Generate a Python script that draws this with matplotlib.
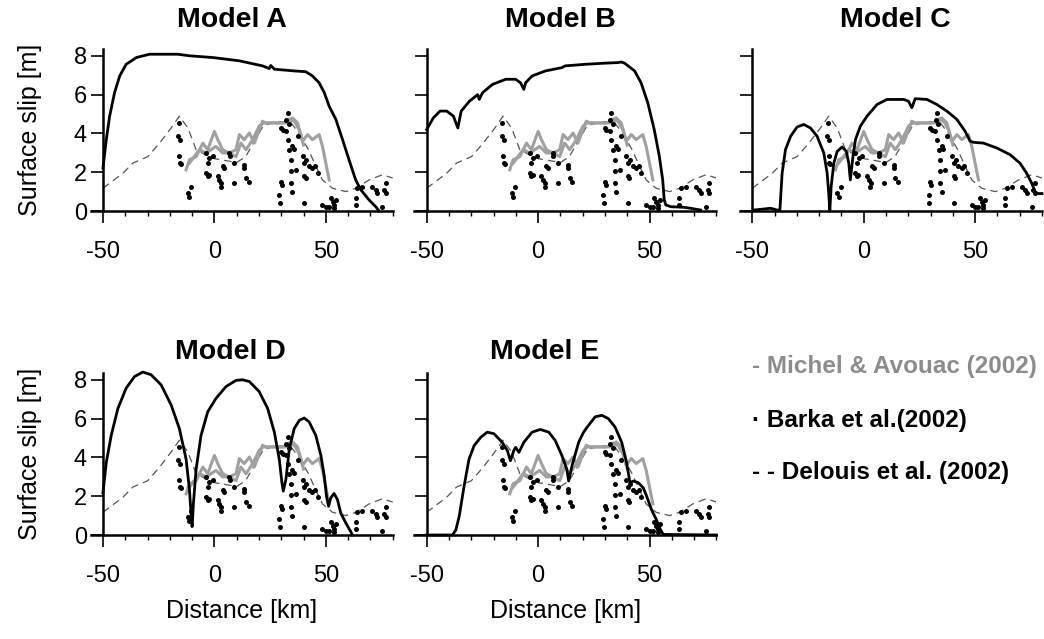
import numpy as np
import matplotlib.pyplot as plt
from matplotlib.ticker import MultipleLocator

plt.rcParams['font.family'] = ['Liberation Sans', 'DejaVu Sans']
plt.rcParams['axes.unicode_minus'] = False

# Delouis et al. (2002) - dashed
delouis_x = [-50, -41, -36.6, -29.9, -24.6, -19.4, -15.7, -11.9, -8.2, -4, 0, 5, 10, 14, 18,
             22, 28, 34, 38, 42, 46, 48.5, 53, 59, 63.4, 69.4, 75.4, 80]
delouis_y = [1.17, 1.95, 2.47, 2.8, 3.5, 4.28, 4.89, 4.28, 3.16, 2.9, 2.7, 2.6, 2.5, 2.8, 3.6,
             4.4, 4.6, 4.6, 4.0, 3.2, 2.2, 1.6, 1.17, 1.0, 1.17, 1.6, 1.87, 1.7]

# Michel & Avouac (2002) - two grey profiles
michel1_x = [-12.7, -11.2, -8.2, -5.2, -3, 0, 1.5, 3.7, 6.7, 9.7, 11.2, 13.4, 15.7, 17.9,
             21.6, 23.1, 30.6, 33.6, 35, 37.3, 39.6, 41.8, 44, 47, 48.5, 51.5]
michel1_y = [2.12, 2.64, 2.8, 3.5, 3.16, 4.1, 3.68, 3.16, 2.99, 3.16, 3.94, 3.68, 4.02, 3.5,
             4.63, 4.54, 4.54, 4.63, 4.8, 4.54, 3.6, 3.94, 3.68, 3.94, 3.33, 1.6]
michel2_x = [-11.2, -6.7, -3.7, 0.7, 3.7, 6.5, 9.7, 11.9, 14.2, 17.2, 20.1, 22, 32, 33.6,
             36, 38, 40]
michel2_y = [2.47, 3.16, 2.99, 3.33, 2.99, 3.0, 2.8, 3.5, 3.16, 3.68, 4.37, 4.54, 4.54, 4.75,
             4.6, 4.2, 3.4]

# Barka et al. (2002) - field measurements
barka_x = [-16, -16.4, -15.4, -15.7, -15.4, -15.0, -11.9, -11.2, -10.4, -3.7, -3, -2.2, -0.7,
           -3.7, -3, -2.4, 1.5, 2.2, 3, 3.1, 3.7, 4.5, 6.7, 6.9, 9, 9, 13.4, 13.4, 14.2, 15.4,
           29.9, 30.6, 32.2, 32.8, 32.3, 33.4, 32.8, 33.6, 34.3, 35, 35.8, 34.3, 37.3, 36.6,
           39.6, 40.3, 41.2, 42.5, 44, 45.2, 46.3, 40.3, 41.0, 29.9, 30.3, 29.1, 29.4, 34.3,
           35, 40.3, 48.5, 50, 52.2, 53, 53.7, 54.5, 53.7, 51.5, 63.4, 64.2, 63.4, 70.9, 72.4,
           73.1, 76.1, 76.9, 76.9, 75.4, 66.4]
barka_y = [4.54, 3.85, 3.68, 2.81, 2.47, 2.4, 0.92, 0.74, 1.26, 2.99, 2.47, 2.73, 2.81,
           1.95, 1.78, 1.86, 1.78, 1.61, 1.26, 1.43, 2.3, 2.21, 2.99, 2.82, 2.47, 1.43, 2.38,
           2.21, 1.69, 1.52, 4.28, 4.2, 4.11, 5.06, 4.7, 4.5, 3.68, 3.16, 2.64, 3.33, 3.2,
           2.04, 3.85, 2.12, 2.81, 2.47, 2.64, 2.3, 2.21, 2.3, 1.95, 1.78, 1.7, 1.52, 1.35,
           0.83, 0.40, 1.43, 1.0, 0.40, 0.31, 0.22, 0.66, 0.48, 0.31, 0.57, 0.14, 0.2, 0.66,
           1.17, 0.31, 1.26, 1.09, 0.92, 1.09, 0.92, 1.43, 0.22, 1.26]

# model surface slip profiles
modA_x = [-50, -48.5, -47, -44.8, -42.5, -39.6, -35, -29.1, -21.6, -16.4, -11.2, -0.7, 11.2,
          21.6, 24.6, 25.3, 26.9, 35.8, 41, 44, 47, 49.3, 51.5, 54.5, 57.5, 60.4, 63.4, 65.7,
          69.4, 72.4, 73.9]
modA_y = [2.21, 3.68, 4.89, 6.1, 6.96, 7.56, 7.91, 8.08, 8.08, 8.08, 8.0, 7.91, 7.74, 7.48,
          7.34, 7.5, 7.31, 7.22, 7.18, 6.96, 6.61, 6.1, 5.4, 4.72, 3.68, 2.64, 1.6, 1.09, 0.57,
          0.22, 0.0]

modB_x = [-50, -47, -44, -41, -38, -36, -34.5, -30.8, -27.1, -26.4, -24.9, -20.4, -14.5, -10.1,
          -7.9, -6.4, -5.6, -2.7, 3.3, 10.7, 12.1, 21, 29.9, 35.9, 37.3, 38.8, 43.3, 46.2, 49.2,
          52.1, 54.4, 55.9, 56.6, 57.3, 59.6, 65.5, 68.4, 72.9]
modB_y = [4.2, 4.8, 5.15, 5.15, 4.89, 4.28, 5.15, 5.66, 6.0, 5.75, 6.1, 6.53, 6.79, 6.79,
          6.61, 6.27, 6.61, 6.96, 7.22, 7.39, 7.48, 7.56, 7.62, 7.65, 7.68, 7.62, 7.22, 6.61,
          5.58, 4.2, 2.82, 1.61, 0.57, 0.31, 0.22, 0.19, 0.14, 0.05]

modC_x = [-49.3, -45, -41.8, -38.8, -37.6, -36.6, -35.1, -32.8, -29.9, -26.9, -23.9, -20.9,
          -17.9, -16.4, -15.7, -15.2, -14.6, -13.4, -11.9, -9.7, -7.8, -6.7, -6.0, -4.8, -3.7,
          -1.5, 1.5, 6, 10.4, 17.9, 20.1, 21.6, 23.1, 28.4, 32.8, 37.3, 41.8, 45.5, 47.8, 49.3,
          53.7, 59.7, 65.7, 70.1, 73.1, 75.4, 76.9, 78, 80]
modC_y = [0.05, 0.1, 0.14, 0.05, 0.05, 1.95, 3.16, 3.85, 4.33, 4.46, 4.28, 3.85, 2.99, 1.95,
          0.92, 0.05, 1.26, 2.47, 3.07, 3.3, 3.07, 2.47, 1.6, 2.82, 3.68, 4.37, 4.89, 5.49,
          5.75, 5.75, 5.66, 5.32, 5.79, 5.75, 5.49, 5.15, 4.72, 4.11, 3.59, 3.54, 3.5, 3.25,
          2.9, 2.47, 1.95, 1.43, 1.0, 0.9, 0.9]

modD_x = [-50, -48.5, -46.3, -43.3, -39.6, -35.8, -32.1, -28.4, -23.9, -19.4, -15.7, -12.7,
          -11.2, -10.4, -10, -9.4, -8.2, -6, -3, 0.7, 5.2, 9.7, 12.7, 15.7, 20.1, 23.9, 26.9,
          29.1, 30.3, 30.9, 32.1, 33.6, 35.8, 38.1, 40.3, 42.5, 45.5, 47.8, 49.3, 50.3, 51.2,
          52.2, 53.7, 55.2, 56.7, 59, 61.2, 61.9]
modD_y = [2.17, 3.74, 5.13, 6.52, 7.57, 8.17, 8.4, 8.26, 7.74, 6.7, 5.48, 3.91, 2.35, 0.96,
          0.43, 1.65, 3.39, 5.13, 6.35, 7.04, 7.65, 7.97, 8.0, 7.91, 7.39, 6.52, 5.3, 3.91,
          2.7, 2.26, 2.87, 4.43, 5.48, 5.91, 6.03, 5.83, 5.13, 4.09, 3.04, 2.0, 1.48, 1.91,
          2.14, 1.83, 1.13, 0.61, 0.17, 0.0]

modE_x = [-50, -38.4, -36.9, -35.4, -33.2, -31, -28.7, -25.7, -22.8, -19.8, -16.1, -13.8,
          -12.4, -10.9, -10.1, -8.6, -6.4, -2.7, 1, 4.8, 7.7, 10.7, 12.9, 13.7, 15.2, 18.2,
          20.4, 22.6, 25.6, 28.6, 31.5, 34.5, 37.5, 39.7, 41.2, 42.7, 44.9, 47.2, 48.7, 50.9,
          53.1, 54.6, 56.1, 80]
modE_y = [0.0, 0.0, 0.26, 0.96, 2.52, 3.91, 4.61, 5.04, 5.3, 5.22, 4.78, 4.35, 3.83, 4.35,
          4.52, 4.26, 4.78, 5.3, 5.44, 5.3, 4.87, 4.09, 3.39, 2.78, 3.57, 4.78, 5.3, 5.65, 6.09,
          6.17, 6.0, 5.57, 4.78, 3.74, 2.7, 2.78, 2.7, 2.43, 2.0, 1.3, 0.78, 0.35, 0.03, 0.0]

models = [("Model A", modA_x, modA_y), ("Model B", modB_x, modB_y), ("Model C", modC_x, modC_y),
          ("Model D", modD_x, modD_y), ("Model E", modE_x, modE_y)]

W, H = 1044, 639
fig = plt.figure(figsize=(W / 100, H / 100), dpi=100)

def px_axes(left, bottom_px, width, height):
    "axes from a pixel box, bottom given as pixel row from the top"
    return fig.add_axes([left / W, (H - bottom_px) / H, width / W, height / H])

# (left px, bottom row px, title x px, title y px)
boxes = [(90.7, 211, 232, 20), (414.4, 211, 560, 20), (740, 211, 895, 20),
         (90.7, 535, 230, 352), (414.4, 535, 545, 352)]

for i, (name, mx, my) in enumerate(models):
    left, bot, tx, ty = boxes[i]
    ax = px_axes(left, bot, 302, 162)
    ax.plot(delouis_x, delouis_y, color='#555555', lw=0.9, dashes=(6, 4))
    ax.plot(michel1_x, michel1_y, color='#a0a0a0', lw=2.2)
    ax.plot(michel2_x, michel2_y, color='#a0a0a0', lw=2.2)
    ax.plot(barka_x, barka_y, 'o', color='black', ms=3.6, mew=0, clip_on=False)
    ax.plot(mx, my, color='black', lw=2, clip_on=False)

    ax.set_xlim(-55.5, 80)
    ax.set_ylim(0, 8.35)
    ax.spines['top'].set_visible(False)
    ax.spines['right'].set_visible(False)
    ax.spines['left'].set_position(('data', -50))
    ax.spines['left'].set_linewidth(1.8)
    ax.spines['bottom'].set_linewidth(1.8)
    ax.set_xticks([-50, 0, 50])
    ax.xaxis.set_minor_locator(MultipleLocator(10))
    ax.set_yticks([0, 2, 4, 6, 8])
    ax.tick_params(which='major', direction='out', length=8.5, width=1.2, labelsize=17)
    ax.tick_params(axis='x', which='major', pad=13)
    ax.tick_params(axis='y', which='major', pad=3)
    ax.tick_params(which='minor', direction='out', length=3.6, width=1.0)
    if i in (1, 2, 4):
        ax.set_yticklabels([])
    else:
        fig.text(30 / W, 1 - (bot - 81) / H, 'Surface slip [m]', fontsize=18,
                 rotation=90, ha='center', va='center')
    if i >= 3:
        ax.set_xlabel('Distance [km]', fontsize=18, labelpad=9)
    fig.text(tx / W, 1 - ty / H, name, fontsize=20.5, fontweight='bold', ha='center', va='center')

# legend text in empty sixth slot
fig.text(752 / W, 1 - 367 / H, '- Michel & Avouac (2002)', fontsize=17.5, fontweight='bold',
         color='#8c8c8c', va='center')
fig.text(752 / W, 1 - 420 / H, '· Barka et al.(2002)', fontsize=17.5, fontweight='bold',
         color='black', va='center')
fig.text(752 / W, 1 - 473 / H, '- - Delouis et al. (2002)', fontsize=17.5, fontweight='bold',
         color='black', va='center')

fig.savefig('out.png', dpi=100)
